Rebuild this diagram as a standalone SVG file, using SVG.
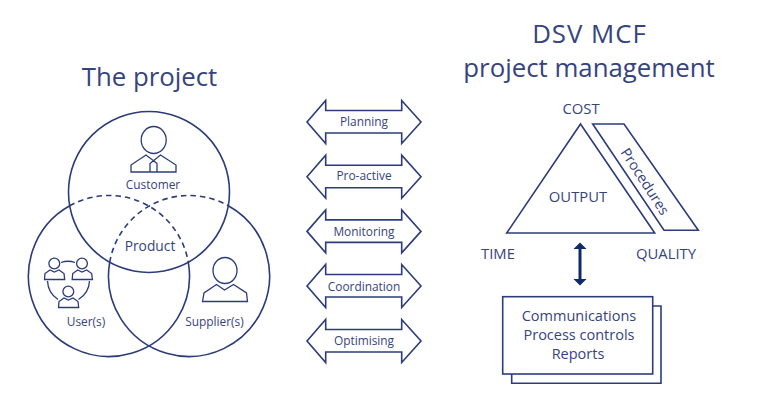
<svg xmlns="http://www.w3.org/2000/svg" width="769" height="401" viewBox="0 0 769 401">
<style>
text{font-family:"Open Sans","Noto Sans","Liberation Sans",sans-serif;fill:#36447e;text-anchor:middle}
.s{fill:none;stroke:#2c3c7a;stroke-width:1.6;stroke-linejoin:miter}
.w{fill:#fff;stroke:#2c3c7a;stroke-width:1.6}
.i{fill:none;stroke:#2c3c7a;stroke-width:1.3}
.d{stroke-dasharray:5.5 4}
.t{font-size:25.8px}
.m{font-size:14.8px}
.b{font-size:14.5px}
.l{font-size:11.9px}
</style>
<defs>
<path id="arrow" class="w" d="M307 0L325.7 -21.5V-11.5H401.7V-21.500L421 0L401.700 21.5V11H325.7V21.5Z"/>
<g id="u"><circle cx="54.3" cy="263.5" r="5.4" class="i"/><path class="i" d="M44.5 279.5L45 273.5L50 270L54.3 272L59 270L64 273.5L64.7 279.5Z"/></g>
</defs>
<text class="t" x="149.500" y="86">The project</text>
<text class="t" x="589.500" y="43" style="letter-spacing:1px">DSV MCF</text>
<text class="t" x="589" y="77">project management</text>
<g id="venn">
<g id="customer"><circle class="s" cx="149" cy="192" r="80.500"/>
<ellipse class="i" cx="153.700" cy="140" rx="12.500" ry="13.500"/>
<path class="i" d="M131 172V165L146 155L153.500 160.700L160.500 155L176 165V172ZM150 172V163.500L153.500 160.700L157 163.500V172"/>
<text class="l" x="153" y="188.500">Customer</text></g>
<g id="users"><path class="s" d="M188.300 262.300A80.500 80.500 0 1 1 69.700 205.700"/>
<path class="s d" d="M69.700 205.700A80.500 80.500 0 0 1 188.300 262.300"/>
<use href="#u"/><use href="#u" x="27.700"/><use href="#u" x="14" y="28"/>
<path class="i" d="M61 262.500Q68 260 75 262.500M47.500 281Q48 293 58 299.500M89.500 281Q89 293 78.500 299.500"/>
<text class="l" x="86" y="326">User(s)</text></g>
<g id="suppliers"><path class="s" d="M228.300 205.700A80.500 80.500 0 1 1 109.700 262.300"/>
<path class="s d" d="M109.700 262.300A80.500 80.500 0 0 1 228.300 205.700"/>
<ellipse class="i" cx="225" cy="270.500" rx="12" ry="13"/>
<path class="i" d="M202.500 301.500L204 293L216.500 284.500L224.500 290L233.500 284.500L246.500 293L247.500 301.500Z"/>
<text class="l" x="214.500" y="326">Supplier(s)</text></g>
<text id="product" class="m" x="150" y="251" style="font-size:13.800px">Product</text>
</g>
<g id="planning"><use href="#arrow" y="122"/><text class="l" x="364" y="126">Planning</text></g>
<g id="proactive"><use href="#arrow" y="176.700"/><text class="l" x="364" y="180">Pro-active</text></g>
<g id="monitoring"><use href="#arrow" y="231.400"/><text class="l" x="364" y="236">Monitoring</text></g>
<g id="coordination"><use href="#arrow" y="286"/><text class="l" x="364" y="291">Coordination</text></g>
<g id="optimising"><use href="#arrow" y="341"/><text class="l" x="364" y="345">Optimising</text></g>
<g id="triangle"><path class="s" d="M580.500 124L654.700 233H506.700Z"/>
<text class="m" x="578" y="202">OUTPUT</text></g>
<text class="m" x="581" y="114">COST</text>
<text class="m" x="498" y="259">TIME</text>
<text class="m" x="666" y="259">QUALITY</text>
<g id="procedures"><path class="s" d="M592.700 124H624L698.300 230.300H664Z"/>
<text class="m" transform="translate(645 181.500) rotate(57)" y="5" style="font-size:14.300px">Procedures</text></g>
<g id="connectors"><path fill="#0f2a6a" d="M580 242.500L586.500 249H581.500V279H586.500L580 285.500L573.500 279H578.500V249H573.500Z"/></g>
<g id="reports"><path class="s" d="M652.700 306H661V383.300H511.700V374"/>
<rect class="s" x="502.700" y="296.700" width="150" height="77.300"/>
<text class="b" x="579" y="321">Communications</text>
<text class="b" x="579" y="340">Process controls</text>
<text class="b" x="578" y="359">Reports</text></g>
</svg>
